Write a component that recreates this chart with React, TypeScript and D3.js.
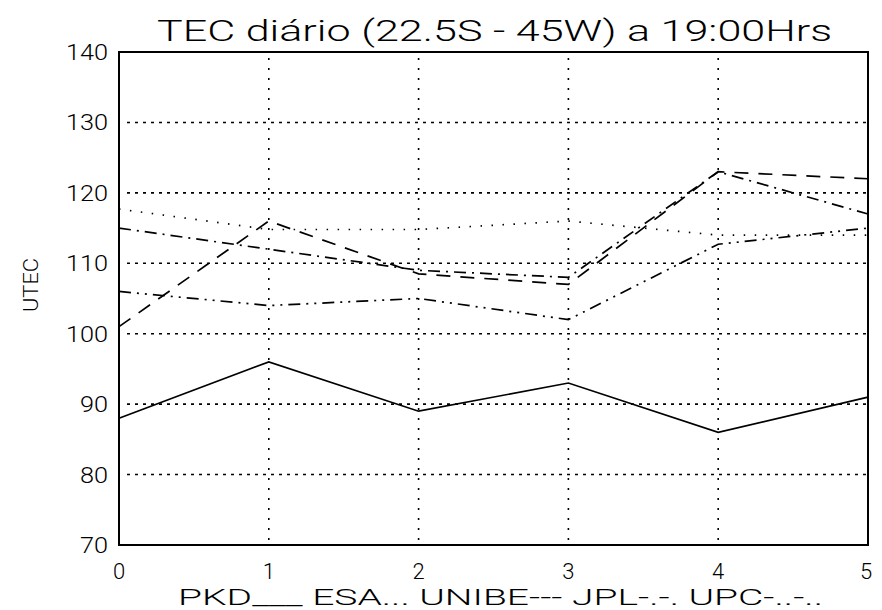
import React from "react";
import * as d3 from "d3";

const days = [0, 1, 2, 3, 4, 5];
const pkd = [88, 96, 89, 93, 86, 91];
const esa = [117.7, 114.8, 114.8, 116, 114, 114];
const unibe = [101, 116, 108.5, 107, 123, 122];
const jpl = [115, 112, 109, 108, 123, 117];
const upc = [106, 104, 105, 102, 112.7, 115];
const yTicks = [70, 80, 90, 100, 110, 120, 130, 140];
const title = "TEC diário (22.5S - 45W) a 19:00Hrs";
const legendText = "PKD___ ESA... UNIBE--- JPL-.-. UPC-..-..";

const series = [
  { name: "PKD", values: pkd, dash: "none" },
  { name: "ESA", values: esa, dash: "1.5,9.5" },
  { name: "UNIBE", values: unibe, dash: "14,10" },
  { name: "JPL", values: jpl, dash: "12,6,2,6" },
  { name: "UPC", values: upc, dash: "12,6,2,6,2,6" },
];

const M = { left: 119, right: 868, top: 52, bottom: 545 };
const FONT = "Roboto, 'DejaVu Sans', sans-serif";

export default function App() {
  const x = d3.scaleLinear().domain([0, 5]).range([M.left, M.right]);
  const y = d3.scaleLinear().domain([70, 140]).range([M.bottom, M.top]);
  const line = d3
    .line<number>()
    .x((_, i) => x(days[i]))
    .y((d) => y(d));

  return (
    <svg
      width={882}
      height={610}
      style={{ position: "absolute", left: 0, top: 0, background: "#fff" }}
    >
      <rect x={0} y={0} width={882} height={610} fill="#fff" />
      {yTicks
        .filter((t) => t > 70 && t < 140)
        .map((t) => (
          <line
            key={"h" + t}
            x1={M.left + 8}
            x2={M.right}
            y1={y(t)}
            y2={y(t)}
            stroke="#000"
            strokeWidth={1.6}
            strokeDasharray="3,5"
          />
        ))}
      {days
        .filter((d) => d > 0 && d < 5)
        .map((d) => (
          <line
            key={"v" + d}
            x1={x(d)}
            x2={x(d)}
            y1={M.top + 6}
            y2={M.bottom}
            stroke="#000"
            strokeWidth={1.6}
            strokeDasharray="2,8"
          />
        ))}
      {series.map((s) => (
        <path
          key={s.name}
          d={line(s.values) || ""}
          fill="none"
          stroke="#000"
          strokeWidth={1.7}
          strokeDasharray={s.dash}
        />
      ))}
      <rect
        x={M.left}
        y={M.top}
        width={M.right - M.left}
        height={M.bottom - M.top}
        fill="none"
        stroke="#000"
        strokeWidth={2}
      />
      {yTicks.map((t) => (
        <text
          key={"yt" + t}
          x={108}
          y={y(t) + 8}
          textAnchor="end"
          fontFamily={FONT}
          fontWeight={300}
          fontSize={22}
          textLength={t >= 100 ? 42 : 28}
          lengthAdjust="spacingAndGlyphs"
        >
          {t}
        </text>
      ))}
      {days.map((d) => (
        <text
          key={"xt" + d}
          x={x(d) - (d === 5 ? 2 : 0)}
          y={579}
          textAnchor="middle"
          fontFamily={FONT}
          fontWeight={300}
          fontSize={22}
        >
          {d}
        </text>
      ))}
      <text
        transform="translate(38,285) rotate(-90)"
        textAnchor="middle"
        fontFamily={FONT}
        fontWeight={300}
        fontSize={21}
        textLength={54}
        lengthAdjust="spacingAndGlyphs"
      >
        UTEC
      </text>
      <text
        x={157}
        y={41}
        fontFamily={FONT}
        fontWeight={300}
        fontSize={29}
        textLength={675}
        lengthAdjust="spacingAndGlyphs"
      >
        {title}
      </text>
      <text
        x={178}
        y={605}
        fontFamily={FONT}
        fontWeight={300}
        fontSize={22}
        textLength={645}
        lengthAdjust="spacingAndGlyphs"
      >
        {legendText}
      </text>
    </svg>
  );
}
